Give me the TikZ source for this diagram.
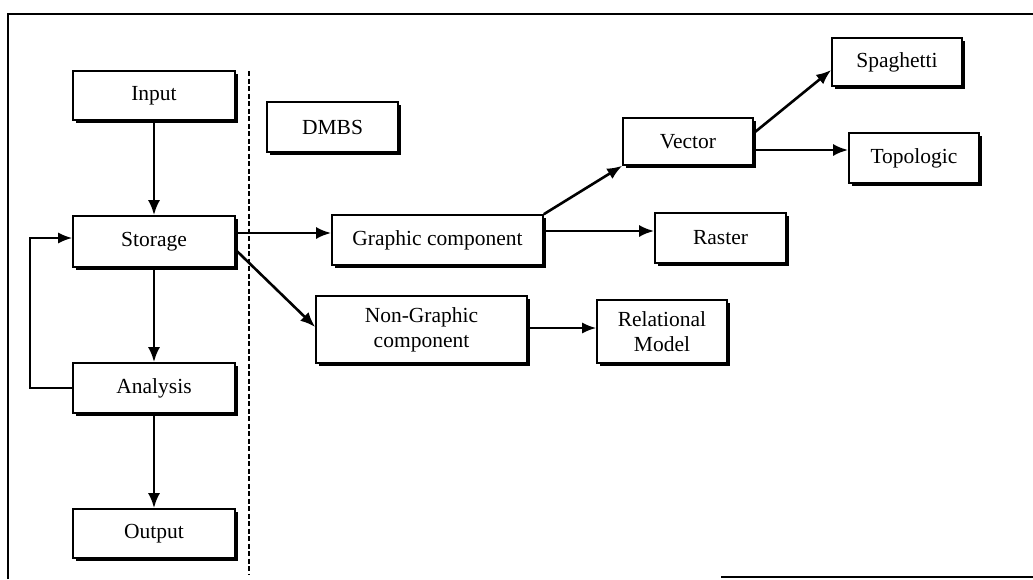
\documentclass[tikz,border=0pt]{standalone}
\usepackage{fontspec}
\setmainfont{Liberation Serif}
\usetikzlibrary{arrows.meta,shadows}
\begin{document}
\begin{tikzpicture}[x=1pt,y=-1pt,
  box/.style={draw,line width=1.6pt,fill=white,inner sep=0pt,
    font=\fontsize{21.5}{25}\selectfont,align=center,
    drop shadow={shadow xshift=2.5pt,shadow yshift=-2.5pt,opacity=1,fill=black}},
  arr/.style={line width=2.6pt,-{Latex[length=15pt,width=12pt]}},
  thinarr/.style={line width=2pt,-{Latex[length=14pt,width=11pt]}},
  frame/.style={line width=2pt}]
\useasboundingbox (0,0) rectangle (1033,579);

% outer frame (partly open)
\draw[frame] (8,579) -- (8,14) -- (1033,14);
\draw[frame] (721,577) -- (1033,577);

% separator between process column and DBMS side
\draw[line width=2.8pt,dash pattern=on 5pt off 2.5pt] (249,71) -- (249,575);

% process column
\node[box,minimum width=162pt,minimum height=49pt] (input) at (154,95.5) {Input};
\node[box,minimum width=162pt,minimum height=51pt] (storage) at (154,241.5) {Storage};
\node[box,minimum width=162pt,minimum height=50pt] (analysis) at (154,388) {Analysis};
\node[box,minimum width=162pt,minimum height=49pt] (output) at (154,533.5) {Output};

% database side
\node[box,minimum width=131pt,minimum height=50pt] (dmbs) at (332.5,127) {DMBS};
\node[box,minimum width=211pt,minimum height=50pt] (graphic) at (437.5,240) {Graphic component};
\node[box,minimum width=211pt,minimum height=67pt] (nongraphic) at (421.5,329.5) {Non-Graphic\\component};
\node[box,minimum width=130pt,minimum height=63pt] (relational) at (662,331.5) {Relational\\Model};
\node[box,minimum width=130pt,minimum height=47pt] (vector) at (688,141.5) {Vector};
\node[box,minimum width=131pt,minimum height=50pt] (raster) at (720.5,238) {Raster};
\node[box,minimum width=130pt,minimum height=48pt] (spaghetti) at (897,62) {Spaghetti};
\node[box,minimum width=130pt,minimum height=50pt] (topologic) at (914,158) {Topologic};

% vertical flow
\draw[arr] (input.south) -- (storage.north);
\draw[arr] (storage.south) -- (analysis.north);
\draw[arr] (analysis.south) -- (output.north);

% feedback loop from analysis back to storage
\coordinate (loopbot) at (30,388);
\coordinate (looptop) at (30,238);
\draw[thinarr] (analysis.west) -- (loopbot) -- (looptop) -- ([yshift=3.5pt]storage.west);

% storage to the two components
\draw[arr] ([yshift=8.5pt]storage.east) -- ([yshift=7pt]graphic.west);
\draw[arr] ([yshift=-8.5pt]storage.east) -- ([yshift=2.5pt]nongraphic.west);

% graphic component branches
\draw[arr] (graphic.north east) -- (vector.south west);
\draw[arr] ([yshift=9pt]graphic.east) -- ([yshift=7pt]raster.west);
\draw[thinarr] ([yshift=1.5pt]nongraphic.east) -- ([yshift=3.5pt]relational.west);

% vector branches
\draw[arr] ([yshift=8.5pt]vector.east) -- ([yshift=-8pt]spaghetti.west);
\draw[arr] ([yshift=-8.5pt]vector.east) -- ([yshift=8pt]topologic.west);
\end{tikzpicture}
\end{document}
